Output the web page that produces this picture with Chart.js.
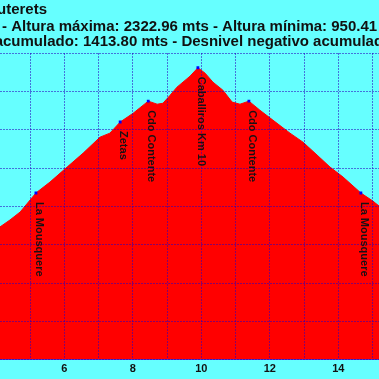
<!DOCTYPE html>
<html>
<head>
<meta charset="utf-8">
<script src="https://cdn.jsdelivr.net/npm/chart.js@4"></script>
<style>
  html, body { margin: 0; padding: 0; background: #66ffff; }
  #wrap { width: 379px; height: 379px; }
</style>
</head>
<body>
<div id="wrap"><canvas id="chart"></canvas></div>
<script>
// Perfil: distancia (km) y altura (m)
var distKm = [4.12, 4.41, 4.71, 5.17, 5.58, 6.08, 6.55, 7.04, 7.33, 7.63, 8.01, 8.45, 8.71, 8.88, 9.09, 9.29, 9.67, 9.90,
              10.11, 10.34, 10.63, 10.90, 11.13, 11.39, 11.71, 12.09, 12.59, 12.97, 13.38, 13.76, 14.14, 14.66, 15.01, 15.19];
var alturas = [1493, 1529, 1571, 1670, 1727, 1805, 1878, 1961, 1982, 2040, 2086, 2149, 2133, 2138, 2180, 2222, 2279, 2323,
               2295, 2248, 2206, 2144, 2133, 2149, 2102, 2050, 1982, 1935, 1868, 1805, 1753, 1670, 1628, 1602];

// Puntos de paso
var wpKm = [5.17, 7.63, 8.45, 9.90, 11.39, 14.66];
var wpAltura = [1670, 2040, 2149, 2323, 2149, 1670];
var wpNombres = ['La Mousquere', 'Zetas', 'Cdo Contente', 'Caballiros Km 10', 'Cdo Contente', 'La Mousquere'];

var xMin = 4.12, xMax = 15.19;
var yMin = 800, yMax = 2400, yPaso = 200;

var tituloLineas = [
    'Cauterets',
    '- Altura máxima: 2322.96 mts - Altura mínima: 950.41 mts',
    'Desnivel positivo acumulado: 1413.80 mts - Desnivel negativo acumulado: 1413.80 mts'
];

var gridColor = 'rgba(40,0,190,0.55)';

var fondoYTitulo = {
    id: 'fondoYTitulo',
    beforeDraw: function(chart) {
        var ctx = chart.ctx;
        ctx.save();
        ctx.fillStyle = '#66ffff';
        ctx.fillRect(0, 0, chart.width, chart.height);
        ctx.fillStyle = '#111';
        ctx.font = 'bold 15px "Liberation Sans", Arial, sans-serif';
        ctx.textBaseline = 'alphabetic';
        ctx.textAlign = 'right';
        ctx.fillText(tituloLineas[0], 47, 14);
        ctx.textAlign = 'left';
        ctx.fillText(tituloLineas[1], 2, 31);
        var off = ctx.measureText('Desnivel positivo a').width;
        ctx.fillText(tituloLineas[2], 3 - off, 46);
        ctx.restore();
    },
    afterDraw: function(chart) {
        var ctx = chart.ctx;
        var xs = chart.scales.x, ys = chart.scales.y;
        ctx.save();
        ctx.fillStyle = '#1a1014';
        ctx.font = 'bold 11px "Liberation Sans", Arial, sans-serif';
        ctx.textAlign = 'left';
        ctx.textBaseline = 'middle';
        wpNombres.forEach(function(nombre, i) {
            var px = xs.getPixelForValue(wpKm[i]);
            var py = ys.getPixelForValue(wpAltura[i]);
            ctx.save();
            ctx.translate(px + 3, py + 9);
            ctx.rotate(Math.PI / 2);
            ctx.fillText(nombre, 0, 0);
            ctx.restore();
        });
        ctx.restore();
    }
};

new Chart(document.getElementById('chart'), {
    type: 'line',
    data: {
        datasets: [
            {
                data: wpKm.map(function(k, i) { return { x: k, y: wpAltura[i] }; }),
                showLine: false,
                pointStyle: 'rect',
                pointRadius: 2,
                pointBackgroundColor: '#0000ff',
                pointBorderWidth: 0
            },
            {
                data: distKm.map(function(k, i) { return { x: k, y: alturas[i] }; }),
                borderColor: '#ff0000',
                borderWidth: 1,
                backgroundColor: '#ff0000',
                fill: 'start',
                pointRadius: 0,
                tension: 0
            }
        ]
    },
    options: {
        responsive: true,
        maintainAspectRatio: false,
        animation: false,
        layout: { autoPadding: false, padding: { top: 53, left: 0, right: 0, bottom: 0 } },
        plugins: { legend: { display: false }, tooltip: { enabled: false } },
        scales: {
            x: {
                type: 'linear',
                min: xMin,
                max: xMax,
                z: 1,
                border: { display: true, color: 'rgba(60,40,200,0.8)', dash: [2, 1], z: 1 },
                grid: { color: gridColor, drawTicks: false, z: 1 },
                ticks: {
                    stepSize: 1,
                    includeBounds: false,
                    padding: 3,
                    color: '#111',
                    font: { family: '"Liberation Sans", Arial, sans-serif', size: 11, weight: 'bold' },
                    maxRotation: 0,
                    autoSkip: false,
                    callback: function(v) { return v % 2 === 0 ? String(v) : ''; }
                }
            },
            y: {
                min: yMin,
                max: yMax,
                z: 1,
                border: { display: false, dash: [2, 1] },
                grid: { color: gridColor, drawTicks: false, z: 1 },
                ticks: { display: false, stepSize: yPaso }
            }
        }
    },
    plugins: [fondoYTitulo]
});
</script>
</body>
</html>
